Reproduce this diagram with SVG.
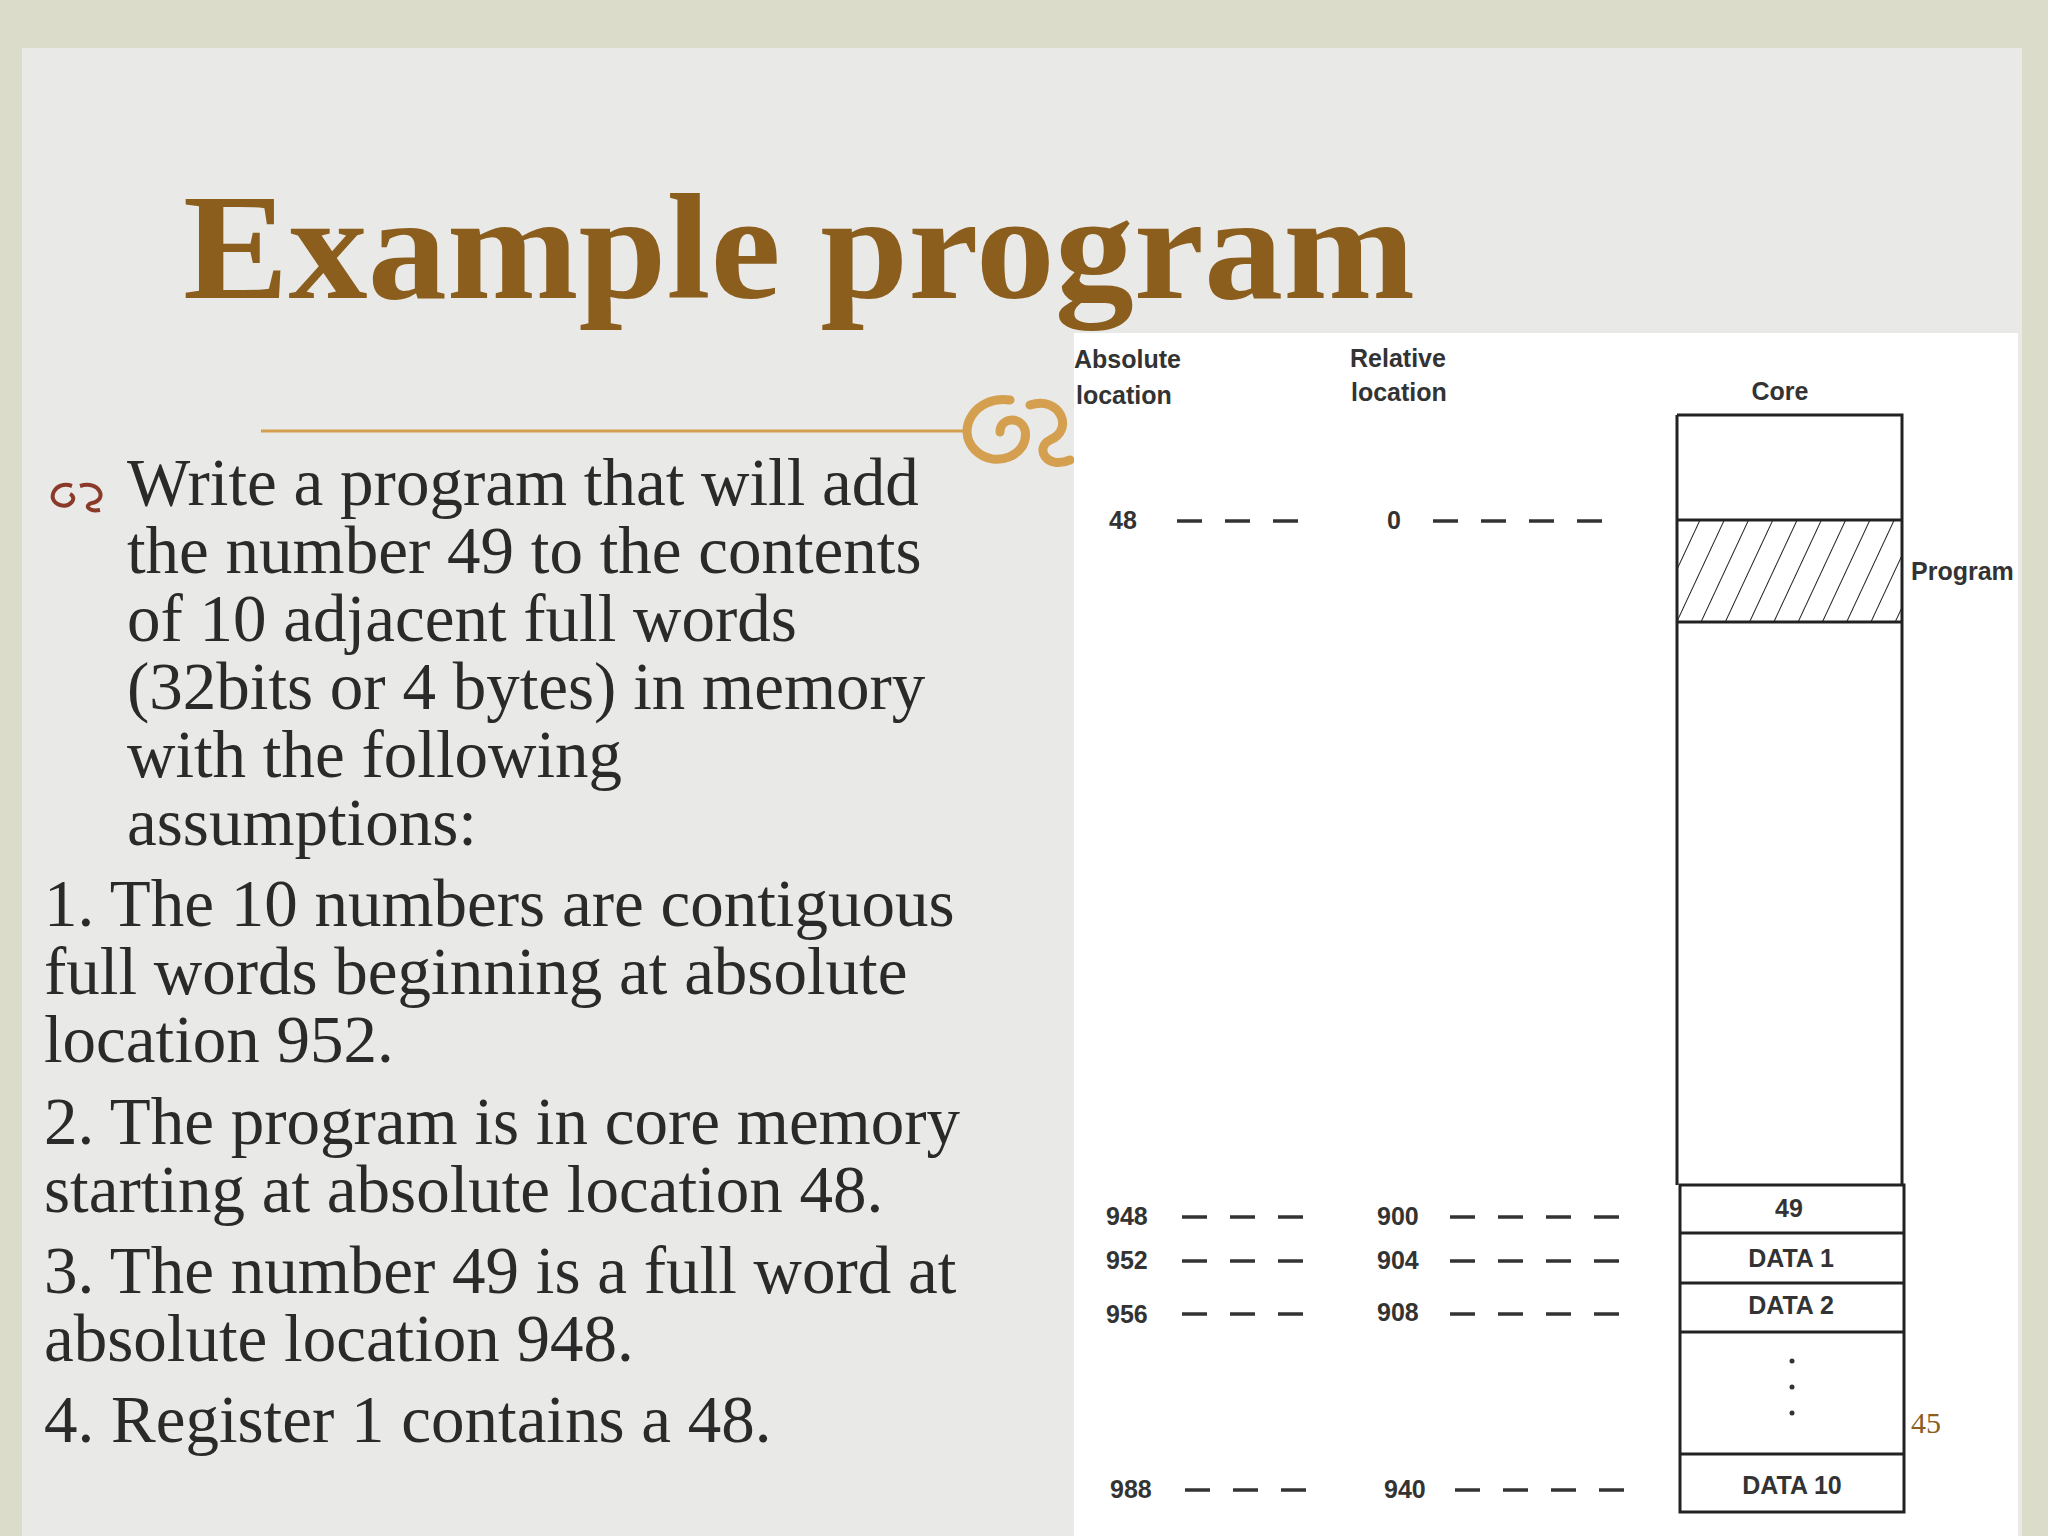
<svg xmlns="http://www.w3.org/2000/svg" width="2048" height="1536" viewBox="0 0 2048 1536">
<style>
.body{font-family:"Liberation Serif",serif;font-size:67px;fill:#2a2a2a}
.lab{font-family:"Liberation Sans",Arial,sans-serif;font-weight:bold;font-size:25px;fill:#333}
.cell{font-family:"Liberation Sans",Arial,sans-serif;font-weight:bold;font-size:25px;fill:#333;text-anchor:middle}
.dash{stroke:#333;stroke-width:3.5;stroke-dasharray:25 23;fill:none}
.ln{stroke:#222;stroke-width:3;fill:none}
</style>
<defs>
<pattern id="hatch" patternUnits="userSpaceOnUse" width="22" height="22" patternTransform="rotate(25)">
<line x1="0" y1="0" x2="0" y2="22" stroke="#222" stroke-width="2"/>
</pattern>
</defs>
<rect width="2048" height="1536" fill="#dcdccb"/>
<rect x="22" y="48" width="2000" height="1488" fill="#e9e9e7"/>
<g id="title">
<text x="183" y="298" font-family="Liberation Serif,serif" font-weight="bold" font-size="150" fill="#8b5e1e" textLength="1232" lengthAdjust="spacingAndGlyphs">Example program</text>
<line x1="261" y1="431" x2="966" y2="431" stroke="#d4a050" stroke-width="3"/>
<path d="M1010 400 C975 395 955 430 975 450 C995 470 1030 455 1025 430 C1020 415 1000 418 1000 432 M1030 405 C1060 395 1075 430 1050 440 C1035 447 1045 470 1070 460" stroke="#d4a050" stroke-width="9" fill="none" stroke-linecap="round"/>
</g>
<g id="text">
<path d="M72 486 C55 480 45 500 60 505 C70 508 78 498 70 494 M80 486 C100 480 108 500 92 503 C84 505 88 512 100 510" stroke="#8b3a2a" stroke-width="4" fill="none"/>
<text class="body" x="127" y="505">Write a program that will add</text>
<text class="body" x="127" y="573">the number 49 to the contents</text>
<text class="body" x="127" y="641">of 10 adjacent full words</text>
<text class="body" x="127" y="709">(32bits or 4 bytes) in memory</text>
<text class="body" x="127" y="777">with the following</text>
<text class="body" x="127" y="845">assumptions:</text>
<text class="body" x="44" y="926">1. The 10 numbers are contiguous</text>
<text class="body" x="44" y="994">full words beginning at absolute</text>
<text class="body" x="44" y="1062">location 952.</text>
<text class="body" x="44" y="1144">2. The program is in core memory</text>
<text class="body" x="44" y="1212">starting at absolute location 48.</text>
<text class="body" x="44" y="1293">3. The number 49 is a full word at</text>
<text class="body" x="44" y="1361">absolute location 948.</text>
<text class="body" x="44" y="1442">4. Register 1 contains a 48.</text>
</g>
<g id="diagram">
<rect x="1074" y="333" width="944" height="1203" fill="#fff"/>
<text class="lab" x="1074" y="368">Absolute</text>
<text class="lab" x="1076" y="404">location</text>
<text class="lab" x="1350" y="367">Relative</text>
<text class="lab" x="1351" y="401">location</text>
<text class="lab" x="1780" y="400" text-anchor="middle">Core</text>
<rect x="1677" y="520" width="225" height="102" fill="url(#hatch)"/>
<path class="ln" d="M1677 415 H1902 V1185 M1677 415 V1185 M1677 520 H1902 M1677 622 H1902"/>
<path class="ln" d="M1680 1185 H1904 V1512 H1680 Z M1680 1233 H1904 M1680 1283 H1904 M1680 1332 H1904 M1680 1454 H1904"/>
<text class="lab" x="1911" y="580">Program</text>
<text class="cell" x="1789" y="1217">49</text>
<text class="cell" x="1791" y="1267">DATA 1</text>
<text class="cell" x="1791" y="1314">DATA 2</text>
<circle cx="1792" cy="1361" r="2.5" fill="#333"/>
<circle cx="1792" cy="1387" r="2.5" fill="#333"/>
<circle cx="1792" cy="1413" r="2.5" fill="#333"/>
<text class="cell" x="1792" y="1494">DATA 10</text>
<text x="1911" y="1433" font-family="Liberation Serif,serif" font-size="30" fill="#8b5e1e">45</text>
</g>
<g id="rows">
<text class="lab" x="1109" y="529">48</text>
<text class="lab" x="1387" y="529">0</text>
<text class="lab" x="1106" y="1225">948</text>
<text class="lab" x="1377" y="1225">900</text>
<text class="lab" x="1106" y="1269">952</text>
<text class="lab" x="1377" y="1269">904</text>
<text class="lab" x="1106" y="1323">956</text>
<text class="lab" x="1377" y="1321">908</text>
<text class="lab" x="1110" y="1498">988</text>
<text class="lab" x="1384" y="1498">940</text>
</g>
<g id="connectors">
<path class="dash" d="M1177 521 H1298 M1433 521 H1602"/>
<path class="dash" d="M1182 1217 H1303 M1450 1217 H1619"/>
<path class="dash" d="M1182 1261 H1303 M1450 1261 H1619"/>
<path class="dash" d="M1182 1314 H1303 M1450 1314 H1619"/>
<path class="dash" d="M1185 1490 H1306 M1455 1490 H1624"/>
</g>
</svg>
